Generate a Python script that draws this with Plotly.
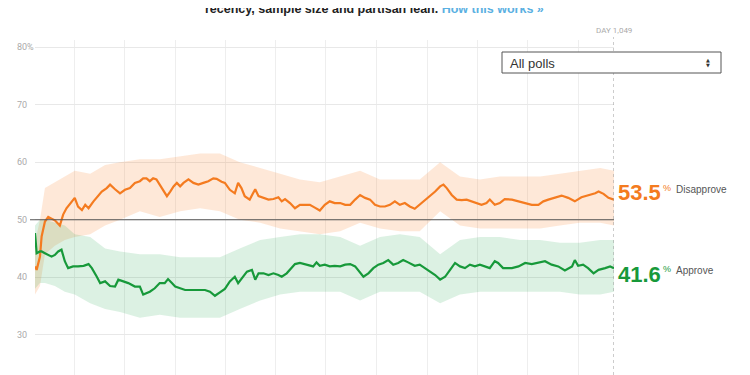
import plotly.graph_objects as go

# ---------------- data ----------------
dis_days = [0, 3, 9, 12, 18, 24, 30, 36, 45, 51, 57, 66, 72, 78, 85, 91, 97, 106, 115, 121,
            130, 136, 145, 154, 163, 172, 181, 190, 196, 202, 208, 214, 220, 226, 232, 239, 245,
            251, 257, 263, 269, 278, 287, 296, 305, 314, 323, 329, 338, 344, 353, 362, 368, 374,
            380, 389, 395, 399, 405, 414, 423, 432, 441, 447, 453, 462, 471, 480, 489, 498, 507,
            516, 525, 534, 543, 553, 562, 571, 580, 589, 598, 607, 616, 625, 634, 643, 652, 661,
            670, 679, 688, 697, 707, 716, 725, 734, 740, 746, 755, 764, 773, 782, 791, 800, 809,
            818, 824, 833, 842, 851, 864, 876, 888, 900, 912, 921, 930, 942, 954, 966, 978, 990,
            1002, 1015, 1021, 1030, 1039, 1049]
disapprove = [41.9, 41.3, 43.6, 47.1, 49.7, 50.5, 50.2, 49.9, 49.0, 50.9, 52.0, 53.2, 53.8, 52.3,
              51.7, 52.6, 52.0, 53.2, 54.3, 54.9, 55.5, 56.1, 55.3, 54.6, 55.2, 55.5, 56.4, 56.7,
              57.2, 57.2, 56.7, 57.2, 57.0, 56.1, 55.2, 54.1, 54.9, 55.8, 56.4, 55.8, 56.4, 57.0,
              56.4, 56.1, 56.4, 56.7, 57.2, 57.1, 56.6, 56.4, 55.2, 54.6, 56.4, 55.5, 54.1, 53.5,
              54.6, 55.3, 54.1, 53.8, 53.5, 53.6, 53.9, 53.2, 53.6, 52.9, 52.0, 52.6, 52.6, 52.6,
              52.1, 51.6, 52.6, 53.2, 52.9, 52.9, 52.6, 52.6, 53.5, 54.3, 53.8, 53.5, 52.6, 52.3,
              52.3, 52.6, 53.2, 52.6, 52.9, 52.3, 51.9, 52.6, 53.5, 54.1, 54.9, 55.8, 56.1, 55.5,
              54.3, 53.5, 53.4, 53.5, 53.2, 52.9, 52.6, 52.9, 53.5, 52.6, 52.9, 53.6, 53.5, 53.2,
              52.9, 52.6, 52.6, 53.2, 53.5, 53.8, 54.2, 53.8, 53.2, 53.9, 54.2, 54.6, 54.9, 54.5,
              53.8, 53.5]

app_days = [0, 3, 9, 12, 18, 24, 30, 36, 42, 48, 54, 60, 69, 78, 88, 97, 103, 112, 118, 127,
            136, 145, 151, 160, 169, 181, 190, 196, 202, 208, 217, 226, 235, 241, 248, 254, 263,
            272, 281, 290, 299, 308, 317, 326, 335, 344, 353, 362, 368, 377, 384, 393, 399, 405,
            414, 423, 432, 441, 447, 456, 465, 471, 480, 489, 495, 504, 510, 516, 525, 534, 543,
            553, 562, 571, 580, 589, 595, 604, 613, 622, 631, 640, 649, 658, 667, 676, 688, 697,
            707, 716, 725, 734, 743, 752, 761, 770, 779, 788, 797, 806, 815, 824, 833, 839, 848,
            864, 876, 888, 900, 912, 924, 936, 948, 960, 973, 978, 984, 993, 1002, 1012, 1021,
            1033, 1042, 1049]
approve = [47.7, 44.2, 44.5, 44.5, 44.2, 43.9, 43.6, 43.9, 44.5, 44.8, 42.8, 41.6, 41.9, 41.9,
           42.0, 42.3, 41.6, 40.1, 39.0, 39.3, 38.5, 38.4, 39.6, 39.3, 39.0, 38.4, 38.4, 37.0,
           37.2, 37.5, 38.1, 39.0, 39.0, 39.7, 39.0, 38.4, 38.1, 37.8, 37.8, 37.8, 37.9, 37.8,
           37.5, 36.8, 37.4, 38.0, 39.3, 40.1, 39.0, 40.1, 41.0, 41.3, 39.6, 40.7, 40.7, 40.4,
           40.7, 40.4, 40.1, 40.7, 41.6, 42.3, 42.5, 42.3, 42.2, 41.9, 42.6, 42.0, 42.2, 41.9,
           42.0, 41.9, 42.2, 42.3, 41.9, 40.7, 40.1, 40.7, 41.6, 42.2, 42.5, 43.0, 42.2, 42.5,
           43.0, 42.6, 42.0, 42.2, 41.6, 41.0, 40.4, 39.6, 40.1, 41.3, 42.5, 41.9, 41.6, 42.2,
           41.9, 42.2, 41.9, 41.6, 42.8, 42.5, 41.6, 41.6, 41.9, 42.5, 42.3, 42.6, 42.8, 42.2,
           41.9, 41.2, 41.9, 43.0, 42.0, 42.2, 41.6, 40.7, 41.3, 41.6, 41.9, 41.6]

band_days = [0, 9, 18, 36, 54, 72, 100, 127, 154, 190, 226, 263, 299, 335, 371, 408, 444, 480,
             516, 553, 589, 625, 661, 697, 734, 770, 806, 842, 879, 915, 951, 987, 1024, 1049]
dis_upper = [46, 50, 55.5, 56.5, 57.5, 58.5, 58, 59.5, 60, 60.5, 60.5, 61, 61.5, 61.5, 60, 59,
             58, 57, 56.5, 57.5, 58.5, 57, 57, 57, 60, 57.5, 57, 57.5, 57.5, 57.5, 58, 58.5, 59, 58.5]
dis_lower = [37, 38.5, 44, 45.5, 46.5, 47, 47.5, 49, 50, 51.5, 50.5, 51.5, 52, 51.5, 50, 49.5,
             48.5, 48, 47.5, 48, 49.5, 48.5, 48, 48, 51.5, 49, 48.5, 48.5, 48.5, 48.5, 49, 49.5, 49.5, 49]
app_upper = [49, 50, 50, 49.5, 49, 47.5, 47, 45, 44.5, 44, 44, 43.5, 43.5, 43.5, 45, 46.5, 47,
             47.5, 47.5, 47, 45.5, 47, 47.5, 47, 44, 46.5, 47, 47, 46.5, 46.5, 46, 46, 46.5, 46.5]
app_lower = [38, 39, 39, 38.5, 37.5, 37, 35.5, 34.5, 34, 33, 33.5, 33, 33, 33, 34.5, 36, 37,
             37.5, 37.5, 37.5, 36, 37.5, 37.5, 37.5, 35.5, 37, 37.5, 37.5, 37.5, 37.5, 37.5, 37, 37, 37.5]

y_ticks = [30, 40, 50, 60, 70, 80]
y_tick_labels = ["30", "40", "50", "60", "70", "80%"]
quarter_days = [0, 71, 162, 254, 346, 436, 527, 619, 711, 801, 892, 984]
current_day = 1049
current_disapprove = "53.5"
current_approve = "41.6"

# ---------------- styling ----------------
ORANGE = "#f47b20"
GREEN = "#17993a"
W, H = 750, 375
OFF = 8  # page body margin: figure is drawn 8px right/down of page origin
# plot area in page pixels: x 35..614, y 40..375
L = 35 - OFF
T = 40 - OFF
PW = 614 - 35
PH = 375 - 40
R = W - L - PW
B = H - T - PH


def px(x_page):
    return (x_page - OFF - L) / PW


def py(y_page):
    return (T + PH - (y_page - OFF)) / PH


fig = go.Figure()

# bands
fig.add_trace(go.Scatter(x=band_days, y=dis_lower, mode="lines", line=dict(width=0),
                         hoverinfo="skip", showlegend=False))
fig.add_trace(go.Scatter(x=band_days, y=dis_upper, mode="lines", line=dict(width=0),
                         fill="tonexty", fillcolor="rgba(248,125,40,0.18)",
                         hoverinfo="skip", showlegend=False))
fig.add_trace(go.Scatter(x=band_days, y=app_lower, mode="lines", line=dict(width=0),
                         hoverinfo="skip", showlegend=False))
fig.add_trace(go.Scatter(x=band_days, y=app_upper, mode="lines", line=dict(width=0),
                         fill="tonexty", fillcolor="rgba(20,160,70,0.15)",
                         hoverinfo="skip", showlegend=False))

# lines
fig.add_trace(go.Scatter(x=dis_days, y=disapprove, mode="lines",
                         line=dict(color=ORANGE, width=2.2), showlegend=False))
fig.add_trace(go.Scatter(x=app_days, y=approve, mode="lines",
                         line=dict(color=GREEN, width=2.2), showlegend=False))

shapes = [
    # 50% reference line
    dict(type="line", xref="paper", yref="y", x0=px(30), x1=1, y0=50, y1=50,
         line=dict(color="#555555", width=1), layer="above"),
    # current day dotted line
    dict(type="line", xref="x", yref="paper", x0=current_day, x1=current_day,
         y0=0, y1=py(37), line=dict(color="#999999", width=1, dash="dot")),
    # dropdown box
    dict(type="rect", xref="paper", yref="paper", x0=px(502), x1=px(721), y0=py(73), y1=py(52),
         line=dict(color="#555555", width=1), fillcolor="white", layer="above"),
]

annotations = []
for v, t in zip(y_ticks, y_tick_labels):
    annotations.append(dict(xref="paper", yref="y", x=px(15), y=v, text=t, showarrow=False,
                            xanchor="left", yanchor="middle",
                            font=dict(family="Roboto", size=9, color="#aaaaaa")))

annotations += [
    dict(xref="paper", yref="paper", x=px(374), y=py(9), showarrow=False,
         text='<b>recency, sample size and partisan lean. <span style="color:#5ab0e2">How this works »</span></b>',
         xanchor="center", yanchor="middle",
         font=dict(family="Liberation Sans", size=12.5, color="#222222")),
    dict(xref="x", yref="paper", x=current_day, y=py(30.5), text="DAY 1,049", showarrow=False,
         xanchor="center", yanchor="middle", font=dict(family="Roboto", size=8, color="#aaaaaa")),
    dict(xref="paper", yref="paper", x=px(508), y=py(63), text="All polls", showarrow=False,
         xanchor="left", yanchor="middle", font=dict(family="Liberation Sans", size=13, color="#333333")),
    dict(xref="paper", yref="paper", x=px(707.5), y=py(59.5), text="▲", showarrow=False,
         xanchor="center", yanchor="middle", font=dict(family="DejaVu Sans", size=5, color="#333333")),
    dict(xref="paper", yref="paper", x=px(707.5), y=py(65.5), text="▼", showarrow=False,
         xanchor="center", yanchor="middle", font=dict(family="DejaVu Sans", size=5, color="#333333")),
    # current values
    dict(xref="paper", yref="paper", x=px(616), y=py(192.5), text="<b>" + current_disapprove + "</b>",
         showarrow=False, xanchor="left", yanchor="middle",
         font=dict(family="Liberation Sans", size=22, color=ORANGE)),
    dict(xref="paper", yref="paper", x=px(661), y=py(187.5), text="%", showarrow=False,
         xanchor="left", yanchor="middle", font=dict(family="Liberation Sans", size=9, color=ORANGE)),
    dict(xref="paper", yref="paper", x=px(674), y=py(189), text="Disapprove", showarrow=False,
         xanchor="left", yanchor="middle", font=dict(family="Liberation Sans", size=10, color="#555555")),
    dict(xref="paper", yref="paper", x=px(616), y=py(274), text="<b>" + current_approve + "</b>",
         showarrow=False, xanchor="left", yanchor="middle",
         font=dict(family="Liberation Sans", size=22, color=GREEN)),
    dict(xref="paper", yref="paper", x=px(661), y=py(269), text="%", showarrow=False,
         xanchor="left", yanchor="middle", font=dict(family="Liberation Sans", size=9, color=GREEN)),
    dict(xref="paper", yref="paper", x=px(674), y=py(270.5), text="Approve", showarrow=False,
         xanchor="left", yanchor="middle", font=dict(family="Liberation Sans", size=10, color="#555555")),
]

fig.update_layout(
    width=W, height=H,
    margin=dict(l=L, r=R, t=T, b=B, pad=0),
    paper_bgcolor="white", plot_bgcolor="white",
    showlegend=False,
    shapes=shapes, annotations=annotations,
    xaxis=dict(range=[0, current_day], tickvals=quarter_days, showticklabels=False,
               showgrid=True, gridcolor="#eeeeee", gridwidth=1, zeroline=False,
               showline=False, ticks="", fixedrange=True),
    yaxis=dict(range=[23.04, 81.22], tickvals=y_ticks, showticklabels=False,
               showgrid=True, gridcolor="#e8e8e8", gridwidth=1, zeroline=False,
               showline=False, ticks="", fixedrange=True),
)

fig.write_html("out.html", config={"displayModeBar": False})
